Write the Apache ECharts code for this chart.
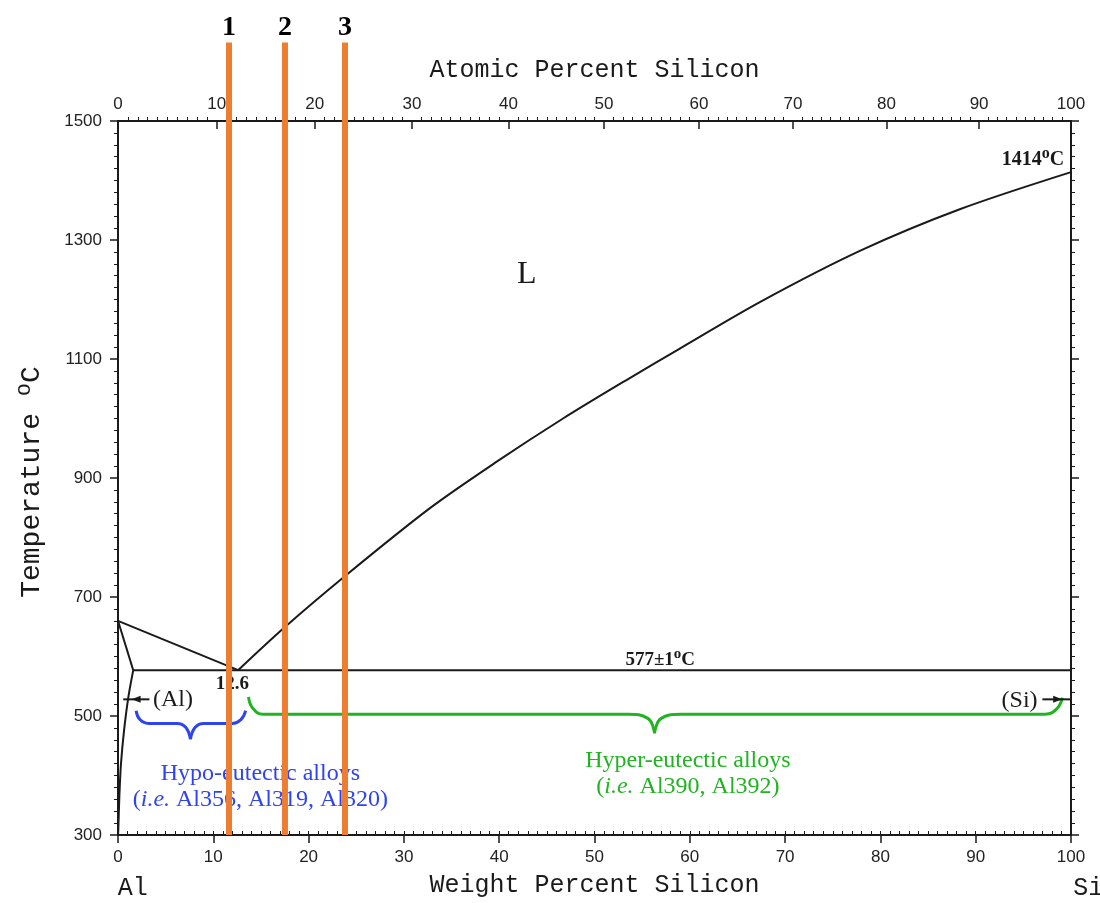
<!DOCTYPE html>
<html>
<head>
<meta charset="utf-8">
<script src="https://cdn.jsdelivr.net/npm/echarts@6/dist/echarts.min.js"></script>
<style>
html,body{margin:0;padding:0;background:#fff;}
#chart{width:1100px;height:903px;}
</style>
</head>
<body>
<div id="chart"></div>
<script>
// ---- data (weight % Si, temperature °C) ----
const liquidusAl = [[0, 660], [12.6, 577]];
const liquidusSi = [[12.6, 577], [17.4, 648], [23.8, 735], [32.7, 849], [39.7, 927], [46.7, 1000], [53.7, 1068], [59.0, 1118], [67.4, 1196], [77.9, 1282], [88.4, 1352], [100, 1414]];
const solidusAl = [[0, 660], [1.6, 577]];
const solvusAl = [[1.6, 577], [1.08, 531], [0.63, 475], [0.31, 419], [0.14, 364], [0.03, 308], [0, 300]];
const eutectic = [[1.6, 577], [100, 577]];

const markerX = [11.65, 17.52, 23.82];
const markerLabels = ['1', '2', '3'];
const markerSpan = [300, 1632];
const markerLabelT = 1656;

const hypoBraceL = [[1.9, 509], [2.3, 494], [3.2, 487.5], [6.2, 487.5], [7.1, 481], [7.6, 461]];
const hypoBraceR = [[7.6, 461], [8.1, 481], [9.0, 487.5], [12.0, 487.5], [12.9, 494], [13.4, 509]];
const hyperBraceL = [[13.7, 532], [14.1, 514], [15.2, 503], [53.5, 503], [55.6, 496], [56.3, 471]];
const hyperBraceR = [[56.3, 471], [57.0, 496], [59.1, 503], [97.3, 503], [98.5, 512], [99.1, 531]];

const alArrow = [[0.55, 528], [3.3, 528]];
const alArrowHead = [[1.9, 528]];
const siArrow = [[97.0, 528], [100, 528]];
const siArrowHead = [[98.6, 528]];

// axis ticks
const tempMin = 300, tempMax = 1500, tempStep = 200;
const wtMin = 0, wtMax = 100, wtStep = 10;
const atomicTicks = [0, 10, 20, 30, 40, 50, 60, 70, 80, 90, 100];
const atomicMinorTicks = [];
for (let a = 1; a < 100; a++) if (a % 10 !== 0) atomicMinorTicks.push(a);

// atomic % -> weight % (Al 26.9815, Si 28.0855)
function wtFromAt(a) {
  const si = a * 28.0855, al = (100 - a) * 26.9815;
  return 100 * si / (si + al);
}
const topTickWt = atomicTicks.map(wtFromAt);
const topMinorWt = atomicMinorTicks.map(wtFromAt);

const ink = '#1a1a1a';
const orange = '#ED7D31';
const blue = '#2f43f0';
const green = '#22b322';
const serif = '"Liberation Serif", "DejaVu Serif", serif';
const mono = '"Liberation Mono", "DejaVu Sans Mono", monospace';
const sans = '"Liberation Sans", Arial, sans-serif';

function lineS(data, color, width, extra) {
  return Object.assign({
    type: 'line', data: data, symbol: 'none', silent: true,
    lineStyle: { color: color, width: width }, z: 2, animation: false
  }, extra || {});
}
function textS(pos, formatter, style, z) {
  return {
    type: 'scatter', data: [pos], symbolSize: 0, silent: true, clip: false, z: z || 4, animation: false,
    itemStyle: { opacity: 1 },
    label: Object.assign({ show: true, position: 'inside', opacity: 1, formatter: formatter }, style)
  };
}

const series = [
  lineS(liquidusAl, ink, 2),
  lineS(liquidusSi, ink, 2, { smooth: 0.3 }),
  lineS(solidusAl, ink, 2),
  lineS(solvusAl, ink, 2, { smooth: 0.3 }),
  lineS(eutectic, ink, 2),
  lineS(hypoBraceL, blue, 3, { smooth: 0.45 }),
  lineS(hypoBraceR, blue, 3, { smooth: 0.45 }),
  lineS(hyperBraceL, green, 3, { smooth: 0.45 }),
  lineS(hyperBraceR, green, 3, { smooth: 0.45 }),
  lineS(alArrow, ink, 2),
  lineS(siArrow, ink, 2),
  { type: 'scatter', data: alArrowHead, symbol: 'triangle', symbolSize: [7, 9], symbolRotate: 90, itemStyle: { color: ink, opacity: 1 }, silent: true, animation: false },
  { type: 'scatter', data: siArrowHead, symbol: 'triangle', symbolSize: [7, 9], symbolRotate: -90, itemStyle: { color: ink, opacity: 1 }, silent: true, animation: false }
];

markerX.forEach(function (x, i) {
  series.push(lineS([[x, markerSpan[0]], [x, markerSpan[1]]], orange, 6, { clip: false, z: 10 }));
  series.push(textS([x, markerLabelT], markerLabels[i], { fontFamily: serif, fontWeight: 'bold', fontSize: 28, color: '#000' }, 10));
});

const supRich = function (size) {
  return {
    n: { fontFamily: serif, fontWeight: 'bold', fontSize: size, color: ink },
    s: { fontFamily: serif, fontWeight: 'bold', fontSize: size - 4, color: ink, padding: [0, 0, size * 0.6, 0] }
  };
};

series.push(textS([42.9, 1242], 'L', { fontFamily: serif, fontSize: 32, color: ink }));
series.push(textS([96.0, 1435], '{n|1414}{s|o}{n|C}', { rich: supRich(20) }));
series.push(textS([56.9, 594], '{n|577±1}{s|o}{n|C}', { rich: supRich(19) }));
series.push(textS([12.0, 554], '12.6', { fontFamily: serif, fontWeight: 'bold', fontSize: 19, color: ink }));
series.push(textS([5.77, 528], '(Al)', { fontFamily: serif, fontSize: 24, color: ink }));
series.push(textS([94.6, 526], '(Si)', { fontFamily: serif, fontSize: 24, color: ink }));

const itRich = function (color) {
  return {
    i: { fontFamily: serif, fontStyle: 'italic', fontSize: 24, color: color },
    n: { fontFamily: serif, fontSize: 24, color: color }
  };
};
series.push(textS([14.94, 403], 'Hypo-eutectic alloys', { fontFamily: serif, fontSize: 24, color: blue }, 4));
series.push(textS([14.94, 359], '{n|(}{i|i.e.}{n| Al356, Al319, Al320)}', { rich: itRich(blue) }, 4));
series.push(textS([59.8, 425], 'Hyper-eutectic alloys', { fontFamily: serif, fontSize: 24, color: green }, 4));
series.push(textS([59.8, 381], '{n|(}{i|i.e.}{n| Al390, Al392)}', { rich: itRich(green) }, 4));
series.push(textS([1.55, 211], 'Al', { fontFamily: mono, fontSize: 25, color: ink }));
series.push(textS([101.8, 211], 'Si', { fontFamily: mono, fontSize: 25, color: ink }));

const axLine = { show: true, onZero: false, lineStyle: { color: ink, width: 2 } };
const tickLbl = { fontFamily: sans, fontSize: 17, color: '#222' };

const option = {
  backgroundColor: '#fff',
  animation: false,
  grid: { left: 118, right: 29, top: 121, bottom: 65, containLabel: false },
  xAxis: [
    { // bottom: weight percent
      type: 'value', position: 'bottom', min: wtMin, max: wtMax, interval: wtStep,
      axisLine: axLine,
      axisTick: { show: true, inside: false, length: 8, lineStyle: { color: ink, width: 1.5 } },
      axisLabel: Object.assign({ margin: 14 }, tickLbl),
      splitLine: { show: false },
      name: 'Weight Percent Silicon', nameLocation: 'middle', nameGap: 38,
      nameTextStyle: { fontFamily: mono, fontSize: 25, color: ink }
    },
    { // top: atomic percent (major)
      type: 'value', position: 'top', min: wtMin, max: wtMax,
      axisLine: axLine,
      axisTick: { show: true, inside: true, length: 8, customValues: topTickWt, lineStyle: { color: ink, width: 1.5 } },
      axisLabel: Object.assign({
        margin: 8, customValues: topTickWt,
        formatter: function (v) {
          const i = topTickWt.findIndex(function (w) { return Math.abs(w - v) < 1e-6; });
          return i >= 0 ? String(atomicTicks[i]) : '';
        }
      }, tickLbl),
      splitLine: { show: false },
      name: 'Atomic Percent Silicon', nameLocation: 'middle', nameGap: 38,
      nameTextStyle: { fontFamily: mono, fontSize: 25, color: ink }
    },
    { // top minor ticks
      type: 'value', position: 'top', min: wtMin, max: wtMax,
      axisLine: { show: false },
      axisTick: { show: true, inside: false, length: 4, customValues: topMinorWt, lineStyle: { color: ink, width: 1 } },
      axisLabel: { show: false }, splitLine: { show: false }
    },
    { // bottom minor ticks
      type: 'value', position: 'bottom', min: wtMin, max: wtMax, interval: 1,
      axisLine: { show: false },
      axisTick: { show: true, inside: true, length: 4, lineStyle: { color: ink, width: 1 } },
      axisLabel: { show: false }, splitLine: { show: false }
    }
  ],
  yAxis: [
    {
      type: 'value', position: 'left', min: tempMin, max: tempMax, interval: tempStep,
      axisLine: axLine,
      axisTick: { show: true, inside: false, length: 8, lineStyle: { color: ink, width: 1.5 } },
      minorTick: { show: true, splitNumber: 10, length: 4, lineStyle: { color: ink, width: 1 } },
      axisLabel: Object.assign({ margin: 16, formatter: function (v) { return String(v); } }, tickLbl),
      splitLine: { show: false },
      name: '{n|Temperature }{s|o}{n|C}', nameLocation: 'middle', nameGap: 67, nameRotate: 90,
      nameTextStyle: {
        padding: [0, 8, 0, 0],
        rich: {
          n: { fontFamily: mono, fontSize: 28, color: ink },
          s: { fontFamily: mono, fontSize: 22, color: ink, padding: [0, 0, 16, 0] }
        }
      }
    },
    {
      type: 'value', position: 'right', min: tempMin, max: tempMax, interval: tempStep,
      axisLine: axLine,
      axisTick: { show: true, inside: false, length: 8, lineStyle: { color: ink, width: 1.5 } },
      minorTick: { show: true, splitNumber: 10, length: 4, lineStyle: { color: ink, width: 1 } },
      axisLabel: { show: false },
      splitLine: { show: false }
    }
  ],
  series: series
};

const chart = echarts.init(document.getElementById('chart'), null, { renderer: 'canvas' });
chart.setOption(option);
</script>
</body>
</html>
